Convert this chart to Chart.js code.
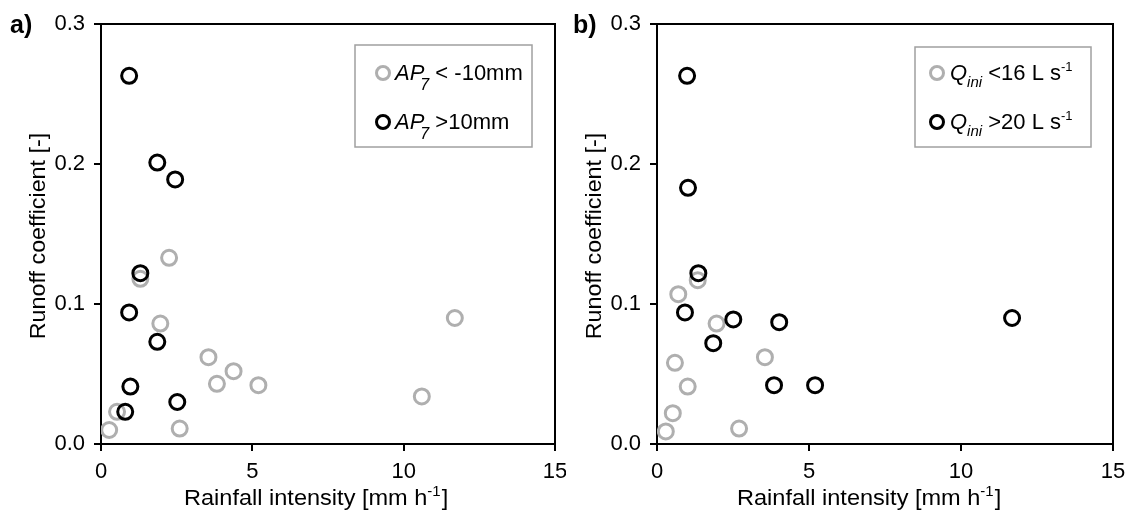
<!DOCTYPE html>
<html><head><meta charset="utf-8">
<script src="https://cdn.jsdelivr.net/npm/chart.js@4/dist/chart.umd.min.js"></script>
<style>
html,body{margin:0;padding:0;background:#fff;width:1132px;height:515px;overflow:hidden}
.wrap{position:absolute;top:0;height:515px}
</style></head><body>
<div class="wrap" style="left:0;width:566px"><canvas id="ca"></canvas></div>
<div class="wrap" style="left:556px;width:576px"><canvas id="cb"></canvas></div>
<script>
// ---- data ----
const xTicks = [0, 5, 10, 15];
const yTicks = [0.0, 0.1, 0.2, 0.3];

// panel a: antecedent precipitation AP7
const apDryX = [0.27, 0.53, 1.30, 1.96, 2.25, 2.60, 3.55, 3.83, 4.38, 5.20, 10.60, 11.69];
const apDryY = [0.010, 0.023, 0.118, 0.086, 0.133, 0.011, 0.062, 0.043, 0.052, 0.042, 0.034, 0.090];
const apWetX = [0.93, 1.86, 2.45, 1.30, 0.93, 1.86, 0.97, 0.80, 2.52];
const apWetY = [0.263, 0.201, 0.189, 0.122, 0.094, 0.073, 0.041, 0.023, 0.030];

// panel b: initial discharge Qini
const qLowX = [0.29, 0.52, 0.59, 0.70, 1.01, 1.34, 1.96, 2.70, 3.55];
const qLowY = [0.009, 0.022, 0.058, 0.107, 0.041, 0.117, 0.086, 0.011, 0.062];
const qHighX = [0.99, 1.02, 1.36, 0.92, 2.51, 4.02, 1.85, 3.85, 5.20, 11.68];
const qHighY = [0.263, 0.183, 0.122, 0.094, 0.089, 0.087, 0.072, 0.042, 0.042, 0.090];

const GREY = '#afafaf';
const BLACK = '#000000';
const FONT = '"Liberation Sans", Arial, sans-serif';

function pts(xs, ys){ return xs.map((x,i)=>({x:x, y:ys[i]})); }

function drawSegs(ctx, x, y, segs){
  for (const s of segs){
    ctx.font = s.font;
    ctx.fillText(s.t, x + (s.dx||0), y + (s.dy||0));
    x += ctx.measureText(s.t).width + (s.dx||0) + (s.after||0);
  }
  return x;
}

function makeChart(id, cfg){
  const decor = {
    id: 'decor',
    afterDraw(chart){
      const ctx = chart.ctx, a = chart.chartArea;
      ctx.save();
      // top / right frame
      ctx.strokeStyle = '#000'; ctx.lineWidth = 2;
      ctx.beginPath();
      ctx.moveTo(a.left, a.top); ctx.lineTo(a.right, a.top); ctx.lineTo(a.right, a.bottom);
      ctx.stroke();
      ctx.fillStyle = '#000';
      ctx.textBaseline = 'alphabetic';
      ctx.textAlign = 'left';
      // panel label
      ctx.font = 'bold 25px ' + FONT;
      ctx.fillText(cfg.panel, cfg.panelX, 33);
      // x title (slightly wide lettering as in the reference)
      ctx.save();
      ctx.translate(cfg.xTitleX, 505);
      ctx.scale(1.07, 1);
      drawSegs(ctx, 0, 0, [
        {t:'Rainfall intensity [mm h', font:'22px ' + FONT},
        {t:'-1', font:'14px ' + FONT, dy:-9},
        {t:']', font:'22px ' + FONT, dx:1}
      ]);
      ctx.restore();
      // y title
      ctx.save();
      ctx.translate(45, (a.top + a.bottom)/2 + 2);
      ctx.rotate(-Math.PI/2);
      ctx.scale(1.06, 1);
      ctx.font = '22px ' + FONT;
      ctx.textAlign = 'center';
      ctx.fillText('Runoff coefficient [-]', 0, 0);
      ctx.restore();
      // legend box
      const L = cfg.legend;
      ctx.strokeStyle = '#a0a0a0'; ctx.lineWidth = 1.5;
      ctx.strokeRect(L.x0, L.y0, L.x1 - L.x0, L.y1 - L.y0);
      L.items.forEach(it => {
        ctx.strokeStyle = it.color; ctx.lineWidth = 3;
        ctx.beginPath(); ctx.arc(L.mx, it.my, 6.5, 0, Math.PI*2); ctx.stroke();
        ctx.fillStyle = '#000';
        drawSegs(ctx, L.tx, it.my + 7, it.segs);
      });
      ctx.restore();
    }
  };
  return new Chart(document.getElementById(id), {
    type: 'scatter',
    data: { datasets: cfg.datasets },
    options: {
      responsive: true, maintainAspectRatio: false, animation: false,
      layout: { padding: { top: 24, right: cfg.padRight, left: 0, bottom: 0 } },
      plugins: { legend: { display: false }, tooltip: { enabled: false } },
      scales: {
        x: {
          type: 'linear', min: 0, max: 15,
          afterBuildTicks(s){ s.ticks = xTicks.map(v=>({value:v})); },
          afterFit(s){ s.height = 71; s.paddingLeft = 0; s.paddingRight = 0; },
          border: { display: true, color: '#000', width: 2 },
          grid: { drawOnChartArea: false, drawTicks: true, tickLength: 7, color: '#000', lineWidth: 2 },
          ticks: { color: '#000', font: { family: FONT, size: 22 }, padding: 8, maxRotation: 0,
                   callback: v => String(v) }
        },
        y: {
          type: 'linear', min: 0, max: 0.3,
          afterBuildTicks(s){ s.ticks = yTicks.map(v=>({value:v})); },
          afterFit(s){ s.width = 101; s.paddingTop = 0; s.paddingBottom = 0; },
          border: { display: true, color: '#000', width: 2 },
          grid: { drawOnChartArea: false, drawTicks: true, tickLength: 7, color: '#000', lineWidth: 2 },
          ticks: { color: '#000', font: { family: FONT, size: 22 }, padding: 9,
                   callback: v => Number(v).toFixed(1) }
        }
      }
    },
    plugins: [decor]
  });
}

function ds(label, xs, ys, color, order){
  return { label: label, data: pts(xs, ys), order: order,
    pointStyle: 'circle', pointRadius: 7.5, pointHoverRadius: 7.5,
    pointBorderWidth: 3, borderColor: color, backgroundColor: 'rgba(0,0,0,0)',
    pointBackgroundColor: 'rgba(0,0,0,0)', pointBorderColor: color };
}

makeChart('ca', {
  panel: 'a)', panelX: 10, xTitleX: 184, padRight: 11,
  datasets: [
    ds('AP7 < -10mm', apDryX, apDryY, GREY, 2),
    ds('AP7 >10mm', apWetX, apWetY, BLACK, 1)
  ],
  legend: { x0: 355, y0: 45, x1: 532, y1: 147, mx: 383, tx: 395,
    items: [
      { color: GREY, my: 73, segs: [
        {t:'AP', font:'italic 22px ' + FONT},
        {t:'7', font:'italic 16px ' + FONT, dx:-4, dy:10},
        {t:' < -10mm', font:'22px ' + FONT}] },
      { color: BLACK, my: 122, segs: [
        {t:'AP', font:'italic 22px ' + FONT},
        {t:'7', font:'italic 16px ' + FONT, dx:-4, dy:10},
        {t:' >10mm', font:'22px ' + FONT}] }
    ] }
});

makeChart('cb', {
  panel: 'b)', panelX: 17, xTitleX: 181, padRight: 19,
  datasets: [
    ds('Qini <16 L s-1', qLowX, qLowY, GREY, 2),
    ds('Qini >20 L s-1', qHighX, qHighY, BLACK, 1)
  ],
  legend: { x0: 359, y0: 47, x1: 535, y1: 147, mx: 381, tx: 394,
    items: [
      { color: GREY, my: 73, segs: [
        {t:'Q', font:'italic 22px ' + FONT},
        {t:'ini', font:'italic 15px ' + FONT, dy:7},
        {t:' <16 L s', font:'22px ' + FONT},
        {t:'-1', font:'13px ' + FONT, dy:-9}] },
      { color: BLACK, my: 122, segs: [
        {t:'Q', font:'italic 22px ' + FONT},
        {t:'ini', font:'italic 15px ' + FONT, dy:7},
        {t:' >20 L s', font:'22px ' + FONT},
        {t:'-1', font:'13px ' + FONT, dy:-9}] }
    ] }
});
</script>
</body></html>
